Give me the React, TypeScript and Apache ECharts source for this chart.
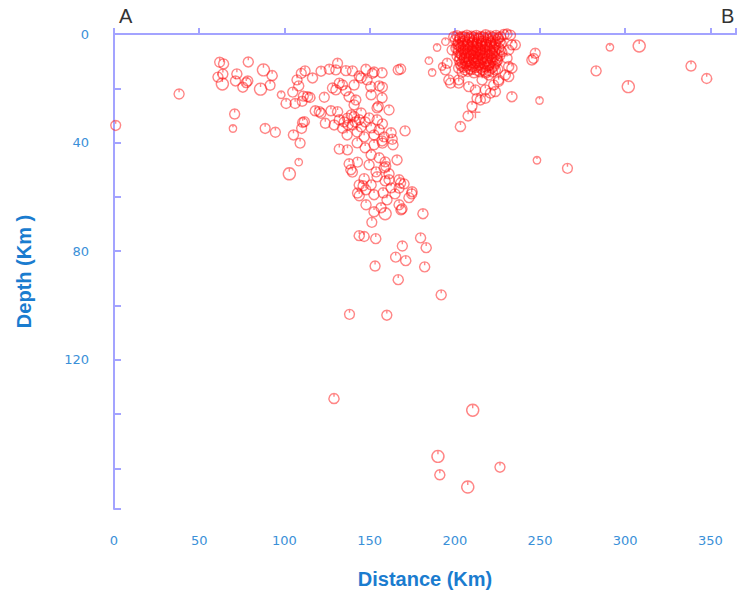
import React, { useEffect, useRef } from 'react';
import * as echarts from 'echarts';

// [distance km, depth km, magnitude class]
const shallowWest: number[][] = [
  [62.0, 10.4, 3], [64.3, 11.0, 3], [78.8, 10.3, 3], [61.0, 15.9, 3], [63.6, 18.4, 4], [63.9, 14.8, 3],
  [72.1, 14.7, 3], [71.3, 17.3, 3], [77.6, 17.9, 3], [78.5, 17.3, 3], [75.6, 19.6, 3], [87.7, 13.2, 4],
  [92.8, 15.3, 3], [91.6, 18.9, 3], [86.0, 20.3, 4], [38.2, 22.1, 3], [1.0, 33.7, 3], [70.8, 29.5, 3],
  [69.8, 34.8, 2], [88.7, 34.8, 3], [94.7, 36.2, 3],
];

const slabUpper: number[][] = [
  [98.1, 22.4, 2], [101.0, 25.6, 3], [104.9, 21.4, 3], [106.3, 25.6, 3], [110.4, 24.8, 3], [111.1, 22.9, 3],
  [115.0, 23.4, 3], [108.4, 19.1, 3], [107.4, 16.9, 3], [109.9, 14.5, 3], [112.1, 13.6, 3], [116.5, 16.2, 3],
  [121.5, 13.7, 3], [126.3, 13.0, 3], [131.2, 10.8, 3], [130.2, 13.2, 3], [136.1, 13.5, 3], [139.9, 13.6, 3],
  [143.9, 15.5, 3], [147.8, 13.0, 3], [123.4, 23.3, 3], [128.2, 19.9, 3], [132.2, 18.1, 3], [136.1, 20.9, 3],
  [141.9, 24.3, 3], [138.0, 23.1, 3], [118.1, 28.3, 3], [121.5, 29.2, 3], [127.3, 28.3, 3], [124.0, 32.9, 3],
  [129.2, 33.5, 3], [132.2, 31.6, 3], [137.0, 31.0, 3], [140.9, 30.4, 3], [143.9, 31.6, 3], [134.1, 34.7, 3],
  [139.9, 33.5, 3], [105.3, 37.2, 3], [110.7, 32.6, 3], [110.1, 34.8, 3], [109.2, 40.2, 3], [108.4, 47.2, 2],
  [102.9, 51.5, 4], [111.7, 32.3, 3], [113.6, 23.1, 3], [130.2, 20.6, 3], [134.1, 18.8, 3], [140.9, 26.1, 3],
  [120.5, 28.6, 3], [131.2, 28.6, 3], [135.1, 32.4, 3], [137.4, 33.5, 3], [141.5, 32.4, 3], [145.0, 34.2, 3],
  [147.4, 32.4, 3], [149.7, 30.9, 3], [150.9, 34.6, 3], [142.7, 36.1, 3], [136.8, 37.2, 3], [146.8, 37.9, 3],
  [152.6, 37.2, 3], [155.6, 35.3, 3], [154.4, 31.6, 3], [145.0, 29.1, 3], [139.2, 29.8, 3], [158.5, 37.9, 3],
  [162.6, 36.4, 3], [170.8, 35.7, 3], [154.4, 27.2, 3], [157.3, 23.5, 3], [155.6, 19.1, 3], [150.9, 22.4, 3],
  [148.5, 16.9, 3], [152.6, 14.0, 3], [157.3, 14.3, 3], [145.0, 16.2, 3], [140.9, 18.8, 3], [161.4, 28.0, 3],
  [155.1, 26.7, 3], [157.5, 33.1, 3], [151.6, 14.5, 3], [150.7, 19.4, 3], [157.5, 19.6, 3], [166.8, 13.2, 3],
  [168.2, 12.9, 3],
];

const slabDeep: number[][] = [
  [132.2, 42.4, 3], [137.0, 42.7, 3], [142.9, 47.2, 3], [138.0, 47.8, 3], [139.0, 50.0, 3], [139.9, 50.9, 3],
  [146.8, 53.3, 3], [143.9, 55.6, 3], [142.9, 58.6, 3], [147.8, 57.4, 3], [142.7, 40.1, 3], [147.4, 41.9, 3],
  [152.6, 40.8, 3], [157.3, 39.4, 3], [163.7, 40.8, 3], [150.9, 44.5, 3], [155.6, 45.6, 3], [159.1, 47.1, 3],
  [166.1, 46.4, 3], [149.7, 48.2, 3], [153.8, 50.8, 3], [158.5, 49.3, 3], [154.4, 52.6, 3], [159.1, 54.1, 3],
  [150.9, 55.6, 3], [162.6, 56.7, 3], [164.9, 58.9, 3], [167.3, 62.9, 3], [168.4, 64.8, 3], [173.1, 60.3, 3],
  [174.9, 58.1, 3], [170.2, 55.2, 3], [160.2, 61.1, 3], [156.7, 64.0, 3], [159.1, 66.2, 4], [152.6, 65.5, 3],
  [147.9, 62.9, 3], [143.9, 59.6, 3], [152.6, 59.2, 3], [157.9, 58.5, 3], [146.2, 55.9, 3], [161.4, 51.5, 3],
  [167.3, 53.7, 3], [181.3, 66.2, 3], [169.0, 64.4, 3], [163.3, 38.8, 3], [157.5, 40.2, 3], [159.5, 48.8, 3],
  [161.4, 53.7, 3], [168.2, 54.9, 3], [174.7, 58.9, 3], [167.3, 56.8, 3], [151.3, 69.4, 3], [153.6, 75.4, 3],
  [143.9, 74.3, 3], [146.8, 74.6, 3], [169.2, 78.1, 3], [179.9, 75.1, 3], [183.2, 78.7, 3], [165.3, 82.2, 3],
  [171.2, 83.5, 3], [182.3, 85.8, 3], [153.2, 85.5, 3], [166.8, 90.5, 3], [192.0, 96.1, 3], [138.2, 103.3, 3],
  [160.1, 103.6, 3], [129.1, 134.3, 3], [210.5, 138.6, 4], [190.1, 155.6, 4], [226.5, 159.6, 3],
  [191.2, 162.4, 3], [207.6, 166.9, 4],
];

const clusterFringe: number[][] = [
  [184.8, 9.8, 2], [186.7, 14.2, 2], [189.6, 5.0, 2], [192.6, 12.0, 2], [194.5, 2.8, 2], [196.5, 16.9, 3],
  [197.5, 18.1, 3], [202.3, 16.9, 3], [208.2, 19.4, 3], [212.1, 20.6, 3], [217.9, 20.6, 3], [217.9, 23.7, 3],
  [220.9, 21.8, 3], [223.8, 21.2, 3], [225.7, 16.9, 3], [229.6, 15.1, 3], [231.6, 12.0, 3], [230.6, 8.9, 3],
  [235.5, 4.0, 3], [231.6, 5.9, 3], [213.0, 23.7, 3], [215.0, 24.3, 3], [233.5, 23.1, 3], [210.1, 26.7, 3],
  [207.8, 30.2, 3], [203.3, 34.1, 3], [232.6, 0.4, 3], [228.7, 0.2, 3], [230.6, 0.0, 3], [194.5, 13.2, 3],
  [195.5, 10.8, 3], [198.4, 5.9, 3], [199.4, 1.0, 3], [216.0, 16.9, 3], [219.9, 15.1, 3], [218.0, 13.9, 3],
  [202.3, 18.1, 3], [222.8, 18.8, 3], [225.7, 17.5, 3], [231.6, 15.7, 3], [233.5, 12.6, 3], [233.5, 4.0, 3],
];

const clusterCore: number[][] = [
  [201.2, 0.6, 3], [204.4, 0.9, 3], [207.1, 0.4, 3], [209.8, 0.8, 3], [212.6, 0.5, 3], [215.3, 0.9, 3],
  [218.1, 0.3, 3], [220.8, 0.7, 3], [224.2, 0.5, 3], [226.9, 1.0, 3],
  [200.3, 2.2, 3], [203.1, 1.8, 3], [205.9, 2.4, 3], [208.7, 1.9, 3], [211.4, 2.3, 3], [214.2, 1.7, 3],
  [216.8, 2.5, 3], [219.6, 2.0, 3], [222.5, 2.4, 3], [225.4, 1.9, 3],
  [201.7, 3.8, 3], [204.3, 3.4, 3], [207.5, 3.9, 3], [210.3, 3.3, 3], [213.1, 3.7, 3], [215.8, 3.5, 3],
  [218.6, 3.9, 3], [221.2, 3.4, 3], [223.9, 3.8, 3], [227.2, 3.5, 3],
  [200.6, 5.2, 3], [203.6, 4.9, 3], [206.2, 5.4, 3], [208.9, 4.8, 3], [211.2, 5.3, 3], [213.7, 5.0, 3],
  [216.3, 5.5, 3], [219.1, 4.9, 3], [222.4, 5.3, 3], [225.8, 5.1, 3],
  [202.1, 6.8, 3], [205.2, 6.4, 3], [207.9, 6.9, 3], [210.4, 6.3, 3], [212.8, 6.7, 3], [215.1, 6.5, 3],
  [217.7, 6.9, 3], [220.6, 6.4, 3], [223.4, 6.8, 3], [227.6, 6.6, 3],
  [201.3, 8.1, 3], [204.1, 7.8, 3], [206.7, 8.3, 3], [209.6, 7.9, 3], [212.2, 8.4, 3], [214.7, 7.7, 3],
  [217.3, 8.2, 3], [220.1, 7.9, 3], [223.1, 8.3, 3], [226.4, 8.0, 3],
  [202.6, 9.7, 3], [205.4, 9.4, 3], [208.2, 9.9, 3], [211.1, 9.5, 3], [213.6, 9.8, 3], [216.2, 9.3, 3],
  [219.2, 9.9, 3], [222.1, 9.5, 3], [225.1, 9.7, 3],
  [203.2, 11.2, 3], [206.1, 10.9, 3], [209.1, 11.4, 3], [211.7, 10.8, 3], [214.3, 11.3, 3], [217.1, 11.0, 3],
  [220.2, 11.4, 3], [223.6, 11.1, 3],
  [202.2, 12.6, 3], [205.3, 12.3, 3], [208.6, 12.8, 3], [212.1, 12.4, 3], [215.2, 12.7, 3], [218.3, 12.2, 3],
  [221.7, 12.6, 3], [225.2, 12.9, 3],
  [204.2, 14.1, 3], [207.6, 13.8, 3], [211.2, 14.3, 3], [214.6, 13.9, 3], [218.2, 14.4, 3], [222.1, 14.0, 3],
];

const clusterCoreInner: number[][] = [
  [202.8, 1.3, 3], [205.7, 1.1, 3], [208.4, 1.4, 3], [211.1, 1.2, 3], [213.9, 1.5, 3], [216.7, 1.1, 3],
  [219.4, 1.4, 3], [222.3, 1.2, 3], [225.6, 1.4, 3],
  [202.0, 2.9, 3], [204.9, 2.7, 3], [207.8, 3.0, 3], [210.6, 2.8, 3], [212.9, 3.1, 3], [215.6, 2.7, 3],
  [218.2, 3.0, 3], [220.9, 2.8, 3], [223.8, 3.1, 3], [226.3, 2.8, 3],
  [202.4, 4.4, 3], [205.1, 4.2, 3], [207.9, 4.5, 3], [210.7, 4.3, 3], [212.6, 4.6, 3], [215.2, 4.2, 3],
  [217.8, 4.5, 3], [220.5, 4.3, 3], [223.2, 4.6, 3],
  [201.9, 5.9, 3], [204.8, 5.7, 3], [207.6, 6.0, 3], [210.0, 5.8, 3], [212.4, 6.1, 3], [214.9, 5.7, 3],
  [217.6, 6.0, 3], [220.4, 5.8, 3], [223.9, 6.0, 3], [226.8, 5.8, 3],
  [203.4, 7.3, 3], [206.1, 7.1, 3], [208.8, 7.4, 3], [211.3, 7.2, 3], [213.8, 7.5, 3], [216.2, 7.1, 3],
  [218.9, 7.4, 3], [221.8, 7.2, 3], [224.8, 7.4, 3],
  [203.0, 8.9, 3], [205.8, 8.7, 3], [208.3, 9.0, 3], [210.9, 8.8, 3], [213.3, 9.1, 3], [215.8, 8.7, 3],
  [218.6, 9.0, 3], [221.4, 8.8, 3], [224.5, 9.0, 3],
  [204.1, 10.4, 3], [207.0, 10.2, 3], [209.8, 10.5, 3], [212.5, 10.3, 3], [215.1, 10.6, 3], [218.0, 10.2, 3],
  [220.9, 10.5, 3], [224.3, 10.3, 3],
  [204.0, 11.9, 3], [207.2, 11.7, 3], [210.4, 12.0, 3], [213.4, 11.8, 3], [216.5, 12.1, 3], [219.6, 11.7, 3],
  [222.9, 11.9, 3],
  [206.0, 13.3, 3], [209.6, 13.1, 3], [213.0, 13.4, 3], [216.4, 13.2, 3], [220.1, 13.5, 3], [223.8, 13.2, 3],
];

const farEast: number[][] = [
  [245.2, 9.6, 3], [247.2, 7.1, 3], [246.2, 9.0, 3], [249.7, 24.5, 2], [248.2, 46.5, 2], [266.1, 49.5, 3],
  [282.9, 13.6, 3], [291.0, 4.9, 2], [308.2, 4.4, 4], [301.8, 19.4, 4], [338.6, 11.8, 3], [347.8, 16.4, 3],
];

const crossEvents: number[][] = [[212.1, 29.2]];

const xTickLabels = [0, 50, 100, 150, 200, 250, 300, 350];
const yTickLabels = [0, 40, 80, 120];

const SIZE_BY_MAG = [0, 6, 7.5, 10, 12];
const AXIS_COLOR = '#a3a3ff';
const LABEL_COLOR = '#3a90d8';
const NAME_COLOR = '#1a7ccf';
const RED = 'rgba(255, 10, 10, 0.62)';
const QUAKE_SYMBOL = 'path://M10,1A9,9,0,1,1,9.99,1ZM10,1L10,7';

export default function App() {
  const ref = useRef<HTMLDivElement>(null);
  useEffect(() => {
    document.body.style.margin = '0';
    const chart = echarts.init(ref.current!, null, { renderer: 'svg' });
    const quakes = [
      ...shallowWest, ...slabUpper, ...slabDeep, ...clusterFringe, ...clusterCore, ...clusterCoreInner, ...farEast,
    ];
    chart.setOption({
      animation: false,
      backgroundColor: '#ffffff',
      grid: { left: 114, right: 0, top: 34, bottom: 87 },
      xAxis: [
        {
          type: 'value', position: 'bottom', min: 0, max: 365, interval: 50,
          axisLine: { show: true, lineStyle: { color: AXIS_COLOR, width: 2 } },
          axisTick: { show: true, inside: true, length: 6, lineStyle: { color: AXIS_COLOR, width: 2 } },
          axisLabel: {
            margin: 25, color: LABEL_COLOR, fontFamily: 'DejaVu Sans', fontSize: 13,
            formatter: (v: number) => (xTickLabels.includes(v) ? String(v) : ''),
          },
          splitLine: { show: false },
          name: 'Distance (Km)', nameLocation: 'middle', nameGap: 60,
          nameTextStyle: { color: NAME_COLOR, fontSize: 20, fontWeight: 'bold', fontFamily: 'Liberation Sans' },
        },
        {
          type: 'value', position: 'top', min: 0, max: 365,
          axisLine: { show: true, lineStyle: { color: AXIS_COLOR, width: 2 } },
          axisTick: { show: false }, axisLabel: { show: false }, splitLine: { show: false },
        },
      ],
      yAxis: {
        type: 'value', inverse: true, min: 0, max: 175, interval: 20,
        axisLine: { show: true, lineStyle: { color: AXIS_COLOR, width: 2 } },
        axisTick: { show: true, inside: true, length: 7, lineStyle: { color: AXIS_COLOR, width: 2 } },
        axisLabel: {
          margin: 25, color: LABEL_COLOR, fontFamily: 'DejaVu Sans', fontSize: 13,
          formatter: (v: number) => (yTickLabels.includes(v) ? String(v) : ''),
        },
        splitLine: { show: false },
        name: 'Depth (Km )', nameLocation: 'middle', nameGap: 80, nameRotate: 90,
        nameTextStyle: { color: NAME_COLOR, fontSize: 20, fontWeight: 'bold', fontFamily: 'Liberation Sans' },
      },
      graphic: [
        { type: 'text', left: 119, top: 6, style: { text: 'A', fill: '#333', font: '20px "Liberation Sans"' } },
        { type: 'text', left: 721, top: 6, style: { text: 'B', fill: '#333', font: '20px "Liberation Sans"' } },
      ],
      series: [
        {
          type: 'scatter', name: 'Earthquakes', xAxisIndex: 0, yAxisIndex: 0,
          data: quakes, clip: false,
          symbol: QUAKE_SYMBOL,
          symbolSize: (val: number[]) => SIZE_BY_MAG[val[2]],
          itemStyle: { color: 'rgba(0,0,0,0)', borderColor: RED, borderWidth: 1.4 },
          emphasis: { disabled: true },
        },
        {
          type: 'scatter', name: 'Other', xAxisIndex: 0, yAxisIndex: 0,
          data: crossEvents, clip: false,
          symbol: 'path://M5,0L5,10M0,4L10,4', symbolSize: 10,
          itemStyle: { color: 'rgba(0,0,0,0)', borderColor: RED, borderWidth: 1.4 },
        },
      ],
    });
    return () => chart.dispose();
  }, []);
  return <div ref={ref} style={{ width: 739, height: 596 }} />;
}
